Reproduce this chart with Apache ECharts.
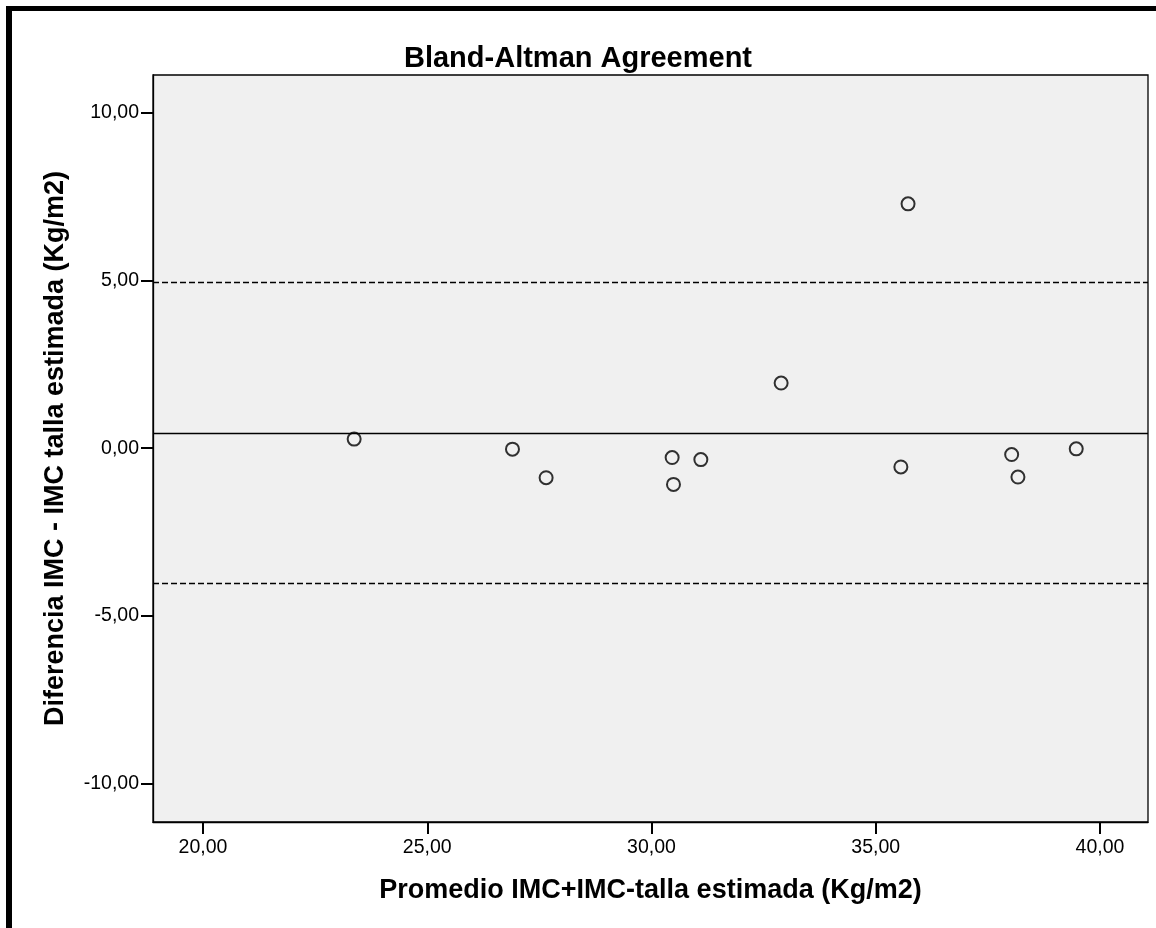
<!DOCTYPE html>
<html>
<head>
<meta charset="utf-8">
<script src="https://cdn.jsdelivr.net/npm/echarts@6/dist/echarts.min.js"></script>
<style>
html,body{margin:0;padding:0;background:#fff;}
#chart{width:1156px;height:928px;}
</style>
</head>
<body>
<div id="chart"></div>
<script>
// Data
const averages = [23.37, 26.90, 27.65, 30.46, 30.49, 31.10, 32.89, 35.56, 35.72, 38.03, 38.17, 39.47];
const differences = [0.27, -0.03, -0.88, -0.28, -1.08, -0.34, 1.94, -0.56, 7.28, -0.19, -0.86, -0.02];
const meanDiff = 0.45;
const upperLimit = 4.94;
const lowerLimit = -4.04;
const xTicks = [20, 25, 30, 35, 40];
const yTicks = [-10, -5, 0, 5, 10];

const FONT = '"Liberation Sans", Arial, sans-serif';
const fmt = v => Number(v).toFixed(2).replace('.', ',');
const isTick = v => Math.abs(v / 5 - Math.round(v / 5)) < 1e-6;

const chart = echarts.init(document.getElementById('chart'), null, {renderer: 'canvas'});
chart.setOption({
  backgroundColor: '#ffffff',
  animation: false,
  title: {
    text: 'Bland-Altman Agreement',
    left: 'center',
    top: 39,
    textStyle: {fontFamily: FONT, fontSize: 29, fontWeight: 'bold', color: '#000'}
  },
  graphic: [
    {type: 'line', shape: {x1: 9, y1: 8.5, x2: 9, y2: 928}, style: {stroke: '#000', lineWidth: 6}},
    {type: 'line', shape: {x1: 6, y1: 8.5, x2: 1156, y2: 8.5}, style: {stroke: '#000', lineWidth: 5}}
  ],
  grid: {
    left: 153, top: 75, right: 8, bottom: 106,
    show: true, backgroundColor: '#f0f0f0', borderColor: '#000', borderWidth: 1.3
  },
  xAxis: {
    type: 'value',
    min: 18.885, max: 41.07,
    name: 'Promedio IMC+IMC-talla estimada (Kg/m2)',
    nameLocation: 'middle',
    nameGap: 55,
    nameTextStyle: {fontFamily: FONT, fontSize: 27, fontWeight: 'bold', color: '#000'},
    splitLine: {show: false},
    axisLine: {show: true, onZero: false, lineStyle: {color: '#000', width: 1.3}},
    axisTick: {show: true, customValues: xTicks, length: 12, lineStyle: {color: '#000', width: 2}},
    axisLabel: {
      customValues: xTicks, margin: 16,
      fontFamily: FONT, fontSize: 19.5, color: '#000',
      formatter: v => (isTick(v) ? fmt(v) : '')
    }
  },
  yAxis: {
    type: 'value',
    min: -11.14, max: 11.12,
    name: 'Diferencia IMC - IMC talla estimada (Kg/m2)',
    nameLocation: 'middle',
    nameGap: 84,
    nameRotate: 90,
    nameTextStyle: {fontFamily: FONT, fontSize: 27, fontWeight: 'bold', color: '#000'},
    splitLine: {show: false},
    axisLine: {show: true, onZero: false, lineStyle: {color: '#000', width: 1.3}},
    axisTick: {show: true, customValues: yTicks, length: 12, lineStyle: {color: '#000', width: 2}},
    axisLabel: {
      customValues: yTicks, margin: 14,
      fontFamily: FONT, fontSize: 19.5, color: '#000',
      formatter: v => (isTick(v) ? fmt(v) : '')
    }
  },
  series: [
    {
      type: 'scatter',
      data: averages.map((x, i) => [x, differences[i]]),
      symbol: 'circle',
      symbolSize: 13,
      itemStyle: {color: 'rgba(0,0,0,0)', borderColor: '#000', borderWidth: 2},
      emphasis: {disabled: true},
      markLine: {
        silent: true,
        symbol: ['none', 'none'],
        label: {show: false},
        animation: false,
        data: [
          {yAxis: meanDiff, lineStyle: {color: '#000', width: 1.4, type: 'solid'}},
          {yAxis: upperLimit, lineStyle: {color: '#000', width: 1.3, type: [6, 3]}},
          {yAxis: lowerLimit, lineStyle: {color: '#000', width: 1.3, type: [6, 3]}}
        ]
      }
    }
  ]
});
</script>
</body>
</html>
